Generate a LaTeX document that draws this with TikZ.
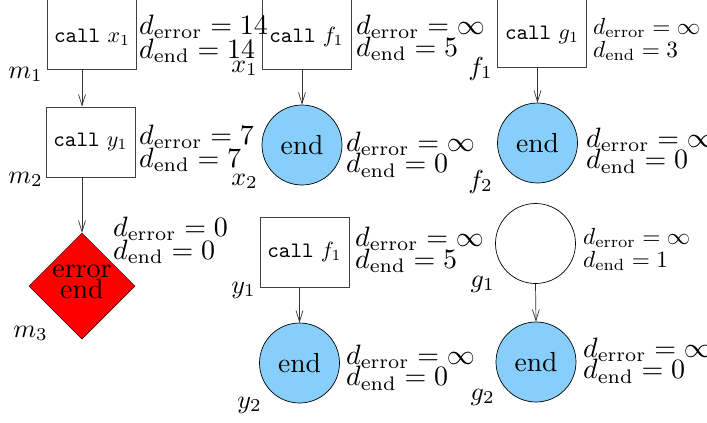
\documentclass[tikz,border=0pt]{standalone}
\usetikzlibrary{shapes.geometric,arrows.meta}
\definecolor{endblue}{RGB}{135,206,250}
% two-line distance label, typeset at 10pt and scaled
\newcommand\dlabel[4]{\scalebox{#1}{\vbox{\baselineskip=#2pt\lineskiplimit=-100pt\lineskip=0pt\relax
  \halign{##\hfil\cr$d_{\mathrm{error}}=#3$\cr$d_{\mathrm{end}}=#4$\cr}}}}
\newcommand\nodename[1]{\scalebox{2.6}{$#1$}}
\newcommand\calltext[1]{\scalebox{2.2}{\texttt{call} $#1$}}
\newcommand\finaltext{\scalebox{2.76}{end}}
\newcommand\errortext{\scalebox{2.8}{\vbox{\baselineskip=7.5pt\lineskiplimit=-100pt\lineskip=0pt\relax
  \halign{\hfil##\hfil\cr error\cr end\cr}}}}
\begin{document}
\begin{tikzpicture}[x=1pt,y=-1pt,
  callbox/.style={draw=black!75, line width=0.8pt, minimum width=89pt, minimum height=70pt, inner sep=0pt},
  topbox/.style={callbox, minimum height=74pt},
  endnode/.style={circle, draw=black, line width=0.7pt, fill=endblue, minimum size=80pt, inner sep=0pt},
  emptynode/.style={circle, draw=black, line width=0.7pt, fill=white, minimum size=80pt, inner sep=0pt},
  errnode/.style={diamond, draw=black, line width=0.5pt, fill=red, minimum width=106pt, minimum height=106pt, inner sep=0pt},
  dlab/.style={anchor=north west, inner sep=0pt},
  nname/.style={anchor=base east, inner sep=0pt},
  arr/.style={draw=black!80, line width=0.7pt, -{Straight Barb[length=11pt,width=7pt]}}
]
\useasboundingbox (0,0) rectangle (707,423);

% nodes
\node[topbox] (m1) at (92,32) {\raisebox{-5pt}[\height][\depth]{\calltext{x_1}}};
\node[callbox] (m2) at (90.5,142) {\calltext{y_1}};
\node[errnode] (m3) at (82,286) {\raisebox{4pt}[\height][\depth]{\errortext}};

\node[topbox] (x1) at (306.5,32) {\raisebox{-5pt}[\height][\depth]{\calltext{f_1}}};
\node[endnode] (x2) at (302,145) {\finaltext};
\node[callbox] (y1) at (304.5,252) {\calltext{f_1}};
\node[endnode] (y2) at (299.5,363) {\finaltext};

\node[topbox] (f1) at (542,30) {\raisebox{-5pt}[\height][\depth]{\calltext{g_1}}};
\node[endnode] (f2) at (537.5,143) {\finaltext};
\node[emptynode] (g1) at (535.5,243.5) {};
\node[endnode] (g2) at (536,362) {\finaltext};

% connectors
\draw[arr] (m1.south -| m3.north) -- (m2.north -| m3.north);
\draw[arr] (m2.south -| m3.north) -- (m3.north);
\draw[arr] (x1.south -| x2.north) -- (x2.north);
\draw[arr] (y1.south -| y2.north) -- (y2.north);
\draw[arr] (f1.south -| f2.north) -- (f2.north);
\draw[arr] (g1.south) -- (g2.north);

% node names
\node[nname] (lm1) at (43,78) {\nodename{m_1}};
\node[nname] (lm2) at (43,183) {\nodename{m_2}};
\node[nname] (lm3) at (48,337) {\nodename{m_3}};
\node[nname] (lx1) at (258,72) {\nodename{x_1}};
\node[nname] (lx2) at (258,185) {\nodename{x_2}};
\node[nname] (ly1) at (256,293) {\nodename{y_1}};
\node[nname] (ly2) at (262,408) {\nodename{y_2}};
\node[nname] (lf1) at (493,75) {\nodename{f_1}};
\node[nname] (lf2) at (493,188) {\nodename{f_2}};
\node[nname] (lg1) at (495,287) {\nodename{g_1}};
\node[nname] (lg2) at (495,400) {\nodename{g_2}};

% distance labels
\node[dlab] (dm1) at (139,15) {\dlabel{2.8}{8.4}{14}{14}};
\node[dlab] (dm2) at (139,125) {\dlabel{2.8}{8.2}{7}{7}};
\node[dlab] (dm3) at (113,217) {\dlabel{2.8}{8.0}{0}{0}};
\node[dlab] (dx1) at (356,15) {\dlabel{2.8}{7.9}{\infty}{5}};
\node[dlab] (dx2) at (346,132) {\dlabel{2.8}{7.6}{\infty}{0}};
\node[dlab] (dy1) at (355,227) {\dlabel{2.8}{7.9}{\infty}{5}};
\node[dlab] (dy2) at (346,345) {\dlabel{2.8}{7.6}{\infty}{0}};
\node[dlab] (df1) at (593,18) {\dlabel{2.33}{9.8}{\infty}{3}};
\node[dlab] (df2) at (586,128) {\dlabel{2.8}{7.6}{\infty}{0}};
\node[dlab] (dg1) at (583,228) {\dlabel{2.33}{9.8}{\infty}{1}};
\node[dlab] (dg2) at (583,338) {\dlabel{2.8}{7.6}{\infty}{0}};
\end{tikzpicture}
\end{document}
